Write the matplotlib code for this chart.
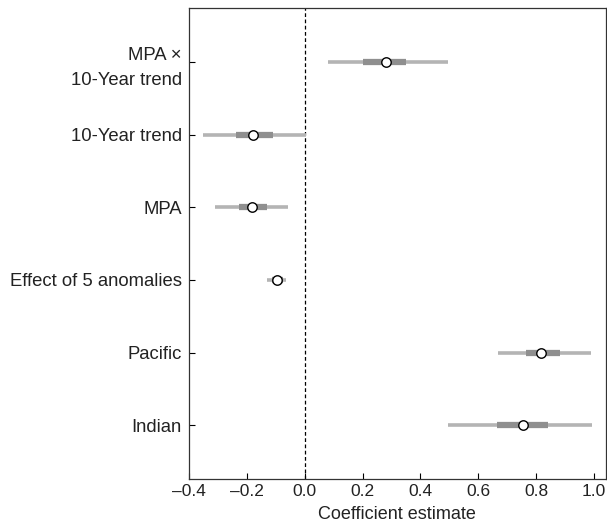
import matplotlib
matplotlib.use("Agg")
import matplotlib.pyplot as plt
import numpy as np

plt.rcParams['font.family'] = ['Liberation Sans', 'DejaVu Sans']

labels = ["Indian", "Pacific", "Effect of 5 anomalies", "MPA", "10-Year trend", "MPA \u00d7\n10-Year trend"]
estimate = [0.754, 0.818, -0.094, -0.181, -0.177, 0.282]
outer_lo = [0.495, 0.668, -0.130, -0.309, -0.350, 0.081]
outer_hi = [0.994, 0.989, -0.063, -0.058, 0.005, 0.495]
inner_lo = [0.665, 0.763, -0.112, -0.228, -0.236, 0.200]
inner_hi = [0.841, 0.881, -0.075, -0.130, -0.110, 0.350]
xticks = [-0.4, -0.2, 0.0, 0.2, 0.4, 0.6, 0.8, 1.0]

fig = plt.figure(figsize=(6.07, 5.24), dpi=100)
ax = fig.add_axes([0.311, 0.086, 0.687, 0.898])

y = np.arange(len(labels))
ax.axvline(0, color='black', linestyle=(0, (3, 2)), linewidth=0.9, zorder=1)
ax.hlines(y, outer_lo, outer_hi, color='#b4b4b4', linewidth=2.6, zorder=2)
ax.hlines(y, inner_lo, inner_hi, color='#8f8f8f', linewidth=4.5, zorder=3)
ax.plot(estimate, y, 'o', markersize=6.8, markerfacecolor='white',
        markeredgecolor='black', markeredgewidth=1.0, zorder=4, linestyle='none')

ax.set_xlim(-0.4, 1.04)
ax.set_ylim(-0.74, 5.74)
ax.set_yticks(y)
ax.set_yticklabels(labels, fontsize=13.3, ha='right', multialignment='right',
                   linespacing=1.6, color='#222222')
ax.set_xticks(xticks)
ax.set_xticklabels([f"{t:.1f}".replace('-', '\u2013') for t in xticks],
                   fontsize=12.5, color='#222222')
ax.tick_params(direction='in', length=4, width=0.8)
ax.tick_params(axis='y', pad=5)
ax.tick_params(axis='x', pad=4)
ax.set_xlabel("Coefficient estimate", fontsize=13, labelpad=5, color='#222222')
for s in ax.spines.values():
    s.set_linewidth(0.9)
    s.set_color('#333333')

fig.savefig("out.png", dpi=100)
